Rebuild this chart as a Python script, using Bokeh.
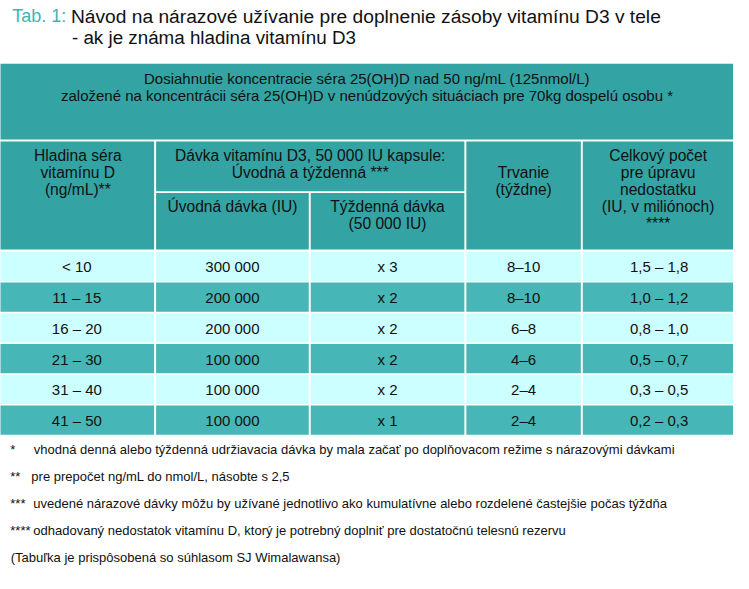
from bokeh.plotting import figure
from bokeh.models import Range1d
from bokeh.core.properties import value
from bokeh.embed import file_html
from bokeh.resources import INLINE

# ---- data ----
title_prefix = "Tab. 1:"
title_line1 = "Návod na nárazové užívanie pre doplnenie zásoby vitamínu D3 v tele"
title_line2 = "- ak je známa hladina vitamínu D3"

top_header = ["Dosiahnutie koncentracie séra 25(OH)D nad 50 ng/mL (125nmol/L)",
              "založené na koncentrácii séra 25(OH)D v nenúdzových situáciach pre 70kg dospelú osobu *"]

hdr_hladina = ["Hladina séra", "vitamínu D", "(ng/mL)**"]
hdr_davka = ["Dávka vitamínu D3, 50 000 IU kapsule:", "Úvodná a týždenná ***"]
hdr_uvodna = ["Úvodná dávka (IU)"]
hdr_tyzdenna = ["Týždenná dávka", "(50 000 IU)"]
hdr_trvanie = ["Trvanie", "(týždne)"]
hdr_celkovy = ["Celkový počet", "pre úpravu", "nedostatku", "(IU, v miliónoch)", "****"]

hladina = ["< 10", "11 – 15", "16 – 20", "21 – 30", "31 – 40", "41 – 50"]
uvodna = ["300 000", "200 000", "200 000", "100 000", "100 000", "100 000"]
tyzdenna = ["x 3", "x 2", "x 2", "x 2", "x 2", "x 1"]
trvanie = ["8–10", "8–10", "6–8", "4–6", "2–4", "2–4"]
celkovy = ["1,5 – 1,8", "1,0 – 1,2", "0,8 – 1,0", "0,5 – 0,7", "0,3 – 0,5", "0,2 – 0,3"]

foot_marks = ["*", "**", "***", "****"]
foot_texts = ["vhodná denná alebo týždenná udržiavacia dávka by mala začať po doplňovacom režime s nárazovými dávkami",
              "pre prepočet ng/mL do nmol/L, násobte s 2,5",
              "uvedené nárazové dávky môžu by užívané jednotlivo ako kumulatívne alebo rozdelené častejšie počas týždňa",
              "odhadovaný nedostatok vitamínu D, ktorý je potrebný doplniť pre dostatočnú telesnú rezervu",
              "(Tabuľka je prispôsobená so súhlasom SJ Wimalawansa)"]

# ---- style / layout ----
TEAL_HDR = "#33a3a3"
TEAL_ROW = "#46b6b6"
LIGHT_ROW = "#ccffff"
TITLE_TEAL = "#40b4b4"
TXT = "#111111"
FONT = value("Liberation Sans")

W, H = 733, 573
REF_W, REF_H = 749, 589
p = figure(width=W, height=H, output_backend="svg", toolbar_location=None,
           x_range=Range1d(0, REF_W), y_range=Range1d(REF_H, 0),
           min_border=0, x_axis_type=None, y_axis_type=None)
p.grid.visible = False
p.outline_line_color = None
p.background_fill_color = "white"
p.border_fill_color = "white"

col_edges = [-2, 158, 316, 475, 594, 752]
col_centers = [(col_edges[i] + col_edges[i + 1]) / 2 for i in range(5)]

# header cells
hl = [-2, -2, 159, 159, 317, 476, 595]
hr = [752, 157, 474, 315, 474, 593, 752]
ht = [65, 145, 145, 198, 198, 145, 145]
hb = [143, 256, 196, 256, 256, 256, 256]
p.quad(left=hl, right=hr, top=ht, bottom=hb, fill_color=TEAL_HDR, line_color=None)

# data cells
ROW_TOP, ROW_H = 257.5, 31.6
cl, cr, ct, cb, cc = [], [], [], [], []
for i in range(len(hladina)):
    for j in range(5):
        cl.append(col_edges[j] + 1)
        cr.append(col_edges[j + 1] - 1)
        ct.append(ROW_TOP + i * ROW_H + 0.8)
        cb.append(ROW_TOP + (i + 1) * ROW_H - 0.8)
        cc.append(LIGHT_ROW if i % 2 == 0 else TEAL_ROW)
p.quad(left=cl, right=cr, top=ct, bottom=cb, fill_color=cc, line_color=None)

# data text
tx, ty, tt = [], [], []
for i, row in enumerate(zip(hladina, uvodna, tyzdenna, trvanie, celkovy)):
    for j, s in enumerate(row):
        tx.append(col_centers[j])
        ty.append(ROW_TOP + (i + 0.5) * ROW_H + 0.5)
        tt.append(s)
p.text(x=tx, y=ty, text=tt, text_font=FONT, text_font_size="15px", text_color=TXT,
       text_align="center", text_baseline="middle")

# title
p.text(x=[12], y=[16], text=[title_prefix], text_font=FONT, text_font_size="18px",
       text_color=TITLE_TEAL, text_align="left", text_baseline="middle")
p.text(x=[72], y=[16], text=[title_line1], text_font=FONT, text_font_size="19.2px",
       text_color=TXT, text_align="left", text_baseline="middle")
p.text(x=[73], y=[38], text=[title_line2], text_font=FONT, text_font_size="18.8px",
       text_color=TXT, text_align="left", text_baseline="middle")

# top header
p.text(x=[374.5, 374.5], y=[80, 98], text=top_header, text_font=FONT, text_font_size="15px",
       text_color=TXT, text_align="center", text_baseline="middle")

LS = 17.5
def header(lines, xc, y0):
    p.text(x=[xc] * len(lines), y=[y0 + k * LS for k in range(len(lines))], text=lines,
           text_font=FONT, text_font_size="15.6px", text_color=TXT,
           text_align="center", text_baseline="middle")

header(hdr_hladina, 79, 159)
header(hdr_davka, 316.5, 159)
header(hdr_uvodna, 237, 212)
header(hdr_tyzdenna, 395.5, 212)
header(hdr_trvanie, 534.5, 176.5)
header(hdr_celkovy, 672, 159)

# footnotes
fy = [462, 489.5, 517, 545, 573]
p.text(x=[10] * len(foot_marks), y=fy[:len(foot_marks)], text=foot_marks, text_font=FONT,
       text_font_size="13px", text_color=TXT, text_align="left", text_baseline="middle")
fx = [34, 31.5, 33.5, 33.5, 10.5]
p.text(x=fx, y=fy, text=foot_texts, text_font=FONT, text_font_size="13px",
       text_color=TXT, text_align="left", text_baseline="middle")

open("out.html", "w").write(file_html(p, INLINE))
